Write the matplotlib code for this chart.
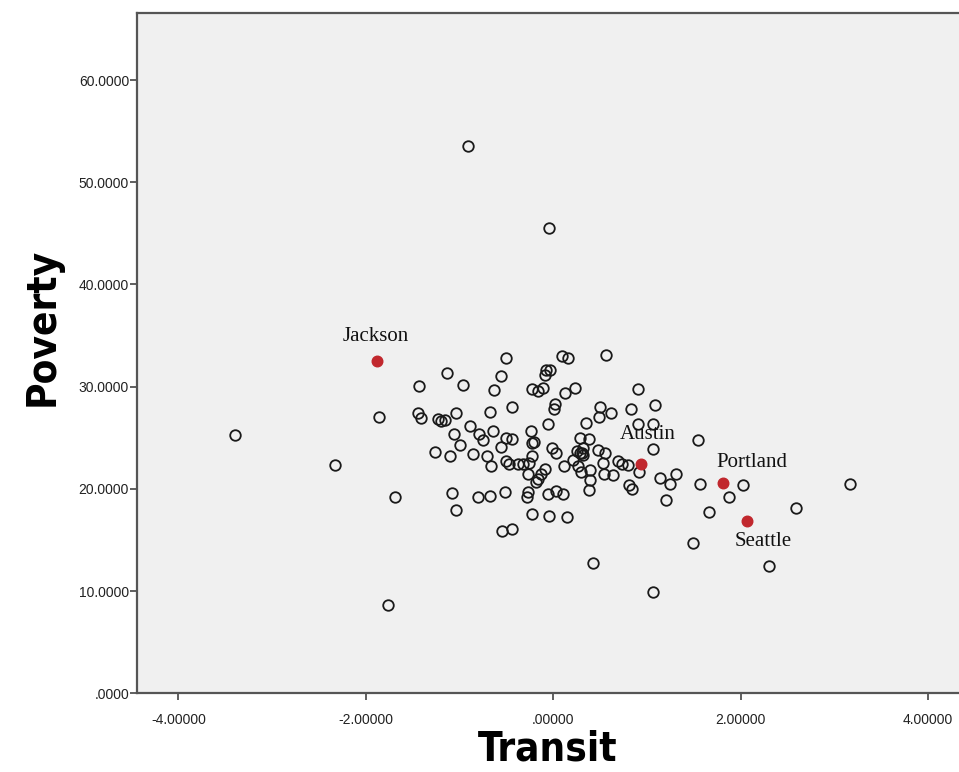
import matplotlib
matplotlib.use("Agg")
import matplotlib.pyplot as plt

# ── Data ──────────────────────────────────────────
transit = [
    -3.40, -2.33, -1.86, -1.69, -1.76, -0.91, -0.05, -1.43, -1.13, -0.96,
    -1.44, -1.41, -1.23, -1.20, -1.16, -1.04, -1.06, -0.99, -1.26, -1.10,
    -1.08, -1.04, -0.89, -0.86, -0.80, -0.79, -0.75, -0.71, -0.66, -0.68,
    -0.67, -0.63, -0.64, -0.56, -0.56, -0.55, -0.505, -0.50, -0.44, -0.50,
    -0.47, -0.51, -0.44, -0.44, -0.38, -0.32, -0.26, -0.24, -0.23, -0.23,
    -0.27, -0.27, -0.28, -0.23, -0.23, -0.16, -0.11, -0.18, -0.13, -0.16,
    -0.08, -0.04, -0.09, -0.06, -0.06, -0.05, -0.01, 0.03, 0.02, 0.01,
    0.03, 0.09, 0.16, 0.12, 0.11, 0.10, 0.15, 0.23, 0.21, 0.25,
    0.26, 0.28, 0.38, 0.32, 0.32, 0.35, 0.28, 0.30, 0.39, 0.39,
    0.38, 0.42, 0.48, 0.55, 0.49, 0.50, 0.62, 0.56, 0.53, 0.54,
    0.64, 0.69, 0.73, 0.80, 0.91, 0.81, 0.84, 0.83, 0.90, 0.90,
    1.06, 1.09, 1.06, 1.14, 1.25, 1.31, 1.20, 1.06, 1.54, 1.57,
    1.66, 1.49, 1.88, 2.03, 2.30, 2.59, 3.17, -0.09, -0.21, 0.31,
]
poverty = [
    25.3, 22.3, 27.0, 19.2, 8.6, 53.6, 45.5, 30.1, 31.3, 30.2,
    27.4, 26.9, 26.8, 26.6, 26.7, 27.4, 25.4, 24.3, 23.6, 23.2,
    19.6, 17.9, 26.2, 23.4, 19.2, 25.4, 24.8, 23.2, 22.2, 19.3,
    27.5, 29.7, 25.7, 31.0, 24.1, 15.9, 32.8, 24.95, 24.9, 22.7,
    22.4, 19.7, 28.0, 16.1, 22.4, 22.4, 22.5, 25.7, 24.5, 23.2,
    21.5, 19.7, 19.2, 17.5, 29.8, 29.6, 29.9, 20.7, 21.5, 21.0,
    31.6, 31.6, 31.1, 26.3, 19.5, 17.3, 24.0, 23.5, 28.3, 27.8,
    19.8, 33.0, 32.8, 29.4, 22.2, 19.5, 17.2, 29.9, 22.8, 23.7,
    22.2, 24.95, 24.85, 24.0, 23.3, 26.4, 23.5, 21.7, 21.85, 20.9,
    19.9, 12.7, 23.8, 23.5, 27.0, 28.0, 27.4, 33.1, 22.5, 21.5,
    21.4, 22.7, 22.4, 22.3, 21.7, 20.4, 20.0, 27.8, 29.8, 26.3,
    26.3, 28.2, 23.9, 21.1, 20.5, 21.5, 18.9, 9.9, 24.8, 20.5,
    17.7, 14.7, 19.2, 20.4, 12.5, 18.1, 20.5, 21.9, 24.6, 23.5,
]

cities = ["Jackson", "Austin", "Portland", "Seattle"]
city_transit = [-1.88, 0.936, 1.81, 2.07]
city_poverty = [32.5, 22.4, 20.6, 16.9]
label_offsets = [(-1, 25), (7, 30), (29, 20), (16, -21)]  # pixels

xticks = [-4, -2, 0, 2, 4]
xtick_labels = ["-4.00000", "-2.00000", ".00000", "2.00000", "4.00000"]
yticks = [0, 10, 20, 30, 40, 50, 60]
ytick_labels = [".0000", "10.0000", "20.0000", "30.0000", "40.0000", "50.0000", "60.0000"]

# ── Plot ──────────────────────────────────────────
fig = plt.figure(figsize=(9.59, 7.72), dpi=100)
ax = fig.add_axes([0.1425, 0.102, 0.8575, 0.8816])
ax.set_facecolor("#f0f0f0")

ax.plot(transit, poverty, "o", markersize=7.6, markerfacecolor="none",
        markeredgecolor="#1a1a1a", markeredgewidth=1.3, linestyle="none")
ax.plot(city_transit, city_poverty, "o", markersize=7.6, color="#c1272d",
        markeredgecolor="#c1272d", linestyle="none")

for name, x, y, off in zip(cities, city_transit, city_poverty, label_offsets):
    ax.annotate(name, (x, y), xytext=off, textcoords="offset pixels",
                ha="center", va="center", fontsize=15,
                family=["Liberation Serif", "DejaVu Serif"], color="#111111")

ax.set_xlim(-4.446, 4.33)
ax.set_ylim(0, 66.6)
ax.set_xticks(xticks)
ax.set_xticklabels(xtick_labels)
ax.set_yticks(yticks)
ax.set_yticklabels(ytick_labels)
ax.tick_params(direction="out", length=5, width=1.2, color="#444444",
               labelsize=10, labelcolor="#222222")
ax.tick_params(axis="y", pad=0.5)
ax.tick_params(axis="x", pad=9)
for lab in ax.get_xticklabels() + ax.get_yticklabels():
    lab.set_family(["Liberation Sans", "DejaVu Sans"])

for side in ["left", "top", "bottom"]:
    ax.spines[side].set_color("#555555")
    ax.spines[side].set_linewidth(1.6)
ax.spines["right"].set_visible(False)

ax.set_xlabel("Transit", fontsize=29, fontweight="bold", fontstretch="condensed",
              family="DejaVu Sans", labelpad=2)
ax.set_ylabel("Poverty", fontsize=29, fontweight="bold", fontstretch="condensed",
              family="DejaVu Sans")
ax.yaxis.set_label_coords(-0.0897, 0.538)

fig.savefig("out.png", dpi=100)
